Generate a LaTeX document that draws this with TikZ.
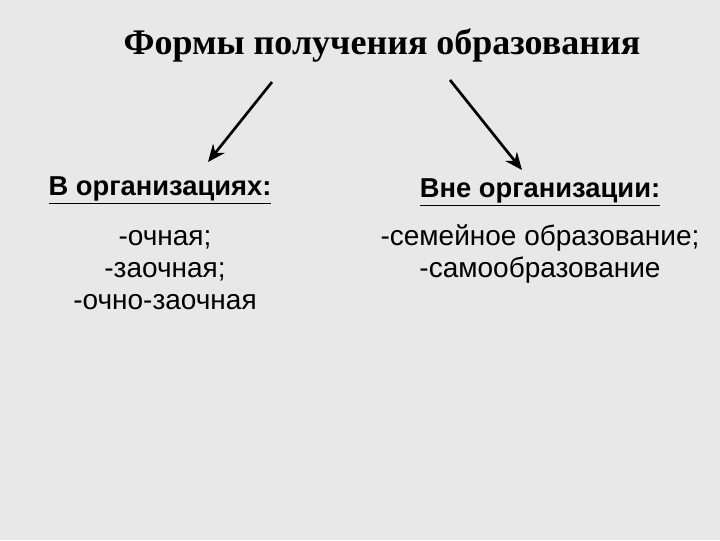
\documentclass[tikz,border=0pt]{standalone}
\usepackage{fontspec}
\setmainfont{Liberation Sans}
\newfontfamily\serifb{Liberation Serif}
\usetikzlibrary{arrows.meta}
\begin{document}
\begin{tikzpicture}[x=0.75pt,y=-0.75pt,
  title/.style={font=\serifb\bfseries\fontsize{27}{32}\selectfont},
  head/.style={font=\bfseries\fontsize{20.5}{24}\selectfont},
  body/.style={font=\fontsize{21}{24}\selectfont,align=center},
  arr/.style={line width=2pt,-{Stealth[length=13pt,width=11pt]}}]
\fill[gray!18] (0,0) rectangle (720,540);
\useasboundingbox (0,0) rectangle (720,540);
\node[title] (t) at (382,45) {Формы получения образования};
\coordinate (la) at (272,82);
\coordinate (ra) at (450,80);
\node[head] (l) at (160,190) {\underline{В организациях:}};
\node[head] (r) at (540,192) {\underline{Вне организации:}};
\draw[arr] (la) -- (208,162);
\draw[arr] (ra) -- (522,170);
\node[body] (lb) at (165,270) {-очная;\\-заочная;\\-очно-заочная};
\node[body] (rb) at (540,254) {-семейное образование;\\-самообразование};
\end{tikzpicture}
\end{document}
